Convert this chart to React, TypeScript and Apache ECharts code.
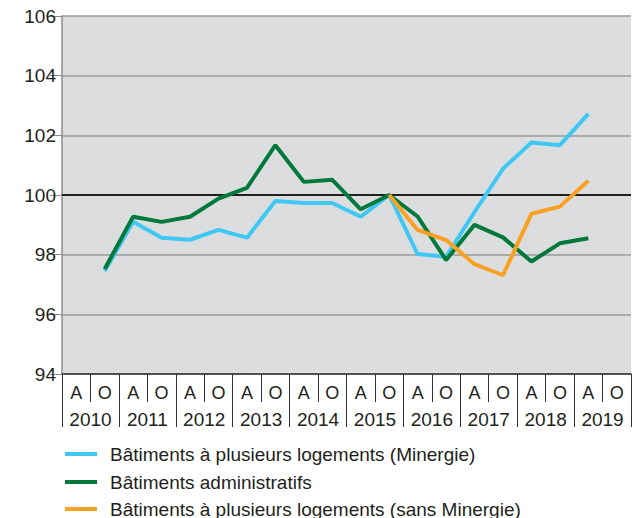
import React, { useEffect, useRef } from "react";
import * as echarts from "echarts";

const years = ["2010", "2011", "2012", "2013", "2014", "2015", "2016", "2017", "2018", "2019"];
const halves = ["A", "O"];
const categories: string[] = years.flatMap(() => halves.map((h) => h));

const minergie = [null, 97.45, 99.1, 98.57, 98.5, 98.83, 98.57, 99.8, 99.73, 99.73, 99.27, 100.0, 98.02, 97.93, 99.43, 100.88, 101.76, 101.67, 102.72, null];
const administratifs = [null, 97.52, 99.27, 99.1, 99.27, 99.88, 100.24, 101.67, 100.44, 100.51, 99.52, 100.0, 99.28, 97.82, 99.0, 98.58, 97.77, 98.38, 98.55, null];
const sansMinergie = [null, null, null, null, null, null, null, null, null, null, null, 100.0, 98.83, 98.49, 97.68, 97.31, 99.37, 99.61, 100.48, null];

const names = [
  "Bâtiments à plusieurs logements (Minergie)",
  "Bâtiments administratifs",
  "Bâtiments à plusieurs logements (sans Minergie)",
];
const colors = ["#3FC8F4", "#00793A", "#F8A123"];

const FONT = "'Liberation Sans', Arial, sans-serif";
const TEXT = "#231F20";

export default function App() {
  const ref = useRef<HTMLDivElement>(null);
  useEffect(() => {
    if (!ref.current) return;
    document.body.style.margin = "0";
    const chart = echarts.init(ref.current, undefined, { renderer: "svg" });
    const seriesData = [minergie, administratifs, sansMinergie];
    const legendTops = [444, 472, 499];
    chart.setOption({
      animation: false,
      textStyle: { fontFamily: FONT, color: TEXT },
      grid: {
        left: 62,
        right: 3,
        top: 16,
        bottom: 144,
        show: true,
        backgroundColor: "#DCDDDF",
        borderWidth: 0,
      },
      legend: names.map((n, i) => ({
        orient: "vertical",
        left: 65,
        top: legendTops[i],
        padding: 0,
        itemWidth: 32,
        itemHeight: 4,
        icon: "rect",
        selectedMode: false,
        textStyle: { fontSize: 19, lineHeight: 20, color: TEXT, fontFamily: FONT, padding: [0, 0, 0, 8] },
        data: [n],
      })),
      xAxis: [
        {
          type: "category",
          data: categories,
          boundaryGap: true,
          axisLine: { show: true, lineStyle: { color: "#333333", width: 1.5 } },
          axisTick: { show: true, length: 28, interval: 0, lineStyle: { color: "#333333", width: 1 } },
          axisLabel: { interval: 0, fontSize: 18, color: TEXT, margin: 10, fontFamily: FONT },
          splitLine: { show: false },
        },
        {
          type: "category",
          data: years,
          position: "bottom",
          boundaryGap: true,
          axisLine: { show: false },
          axisTick: { show: true, length: 53, interval: 0, lineStyle: { color: "#333333", width: 1 } },
          axisLabel: { interval: 0, fontSize: 19, color: TEXT, margin: 36, fontFamily: FONT },
          splitLine: { show: false },
        },
      ],
      yAxis: {
        type: "value",
        min: 94,
        max: 106,
        interval: 2,
        axisLine: { show: true, lineStyle: { color: "#8C8C8C", width: 1.5 } },
        axisTick: { show: true, length: 12, lineStyle: { color: "#8C8C8C", width: 1 } },
        axisLabel: { fontSize: 19, color: TEXT, margin: 6, fontFamily: FONT },
        splitLine: { show: true, lineStyle: { color: "#9A9A9A", width: 1.5 } },
      },
      series: names.map((name, i) => ({
        name,
        type: "line",
        xAxisIndex: 0,
        data: seriesData[i],
        symbol: "none",
        connectNulls: false,
        lineStyle: { color: colors[i], width: 4 },
        itemStyle: { color: colors[i] },
        z: 2 + i,
        markLine:
          i === 0
            ? {
                silent: true,
                symbol: "none",
                label: { show: false },
                lineStyle: { color: "#231F20", width: 2, type: "solid" },
                data: [{ yAxis: 100 }],
                z: 1,
              }
            : undefined,
      })),
    });
    return () => chart.dispose();
  }, []);
  return <div ref={ref} style={{ width: 634, height: 518 }} />;
}
